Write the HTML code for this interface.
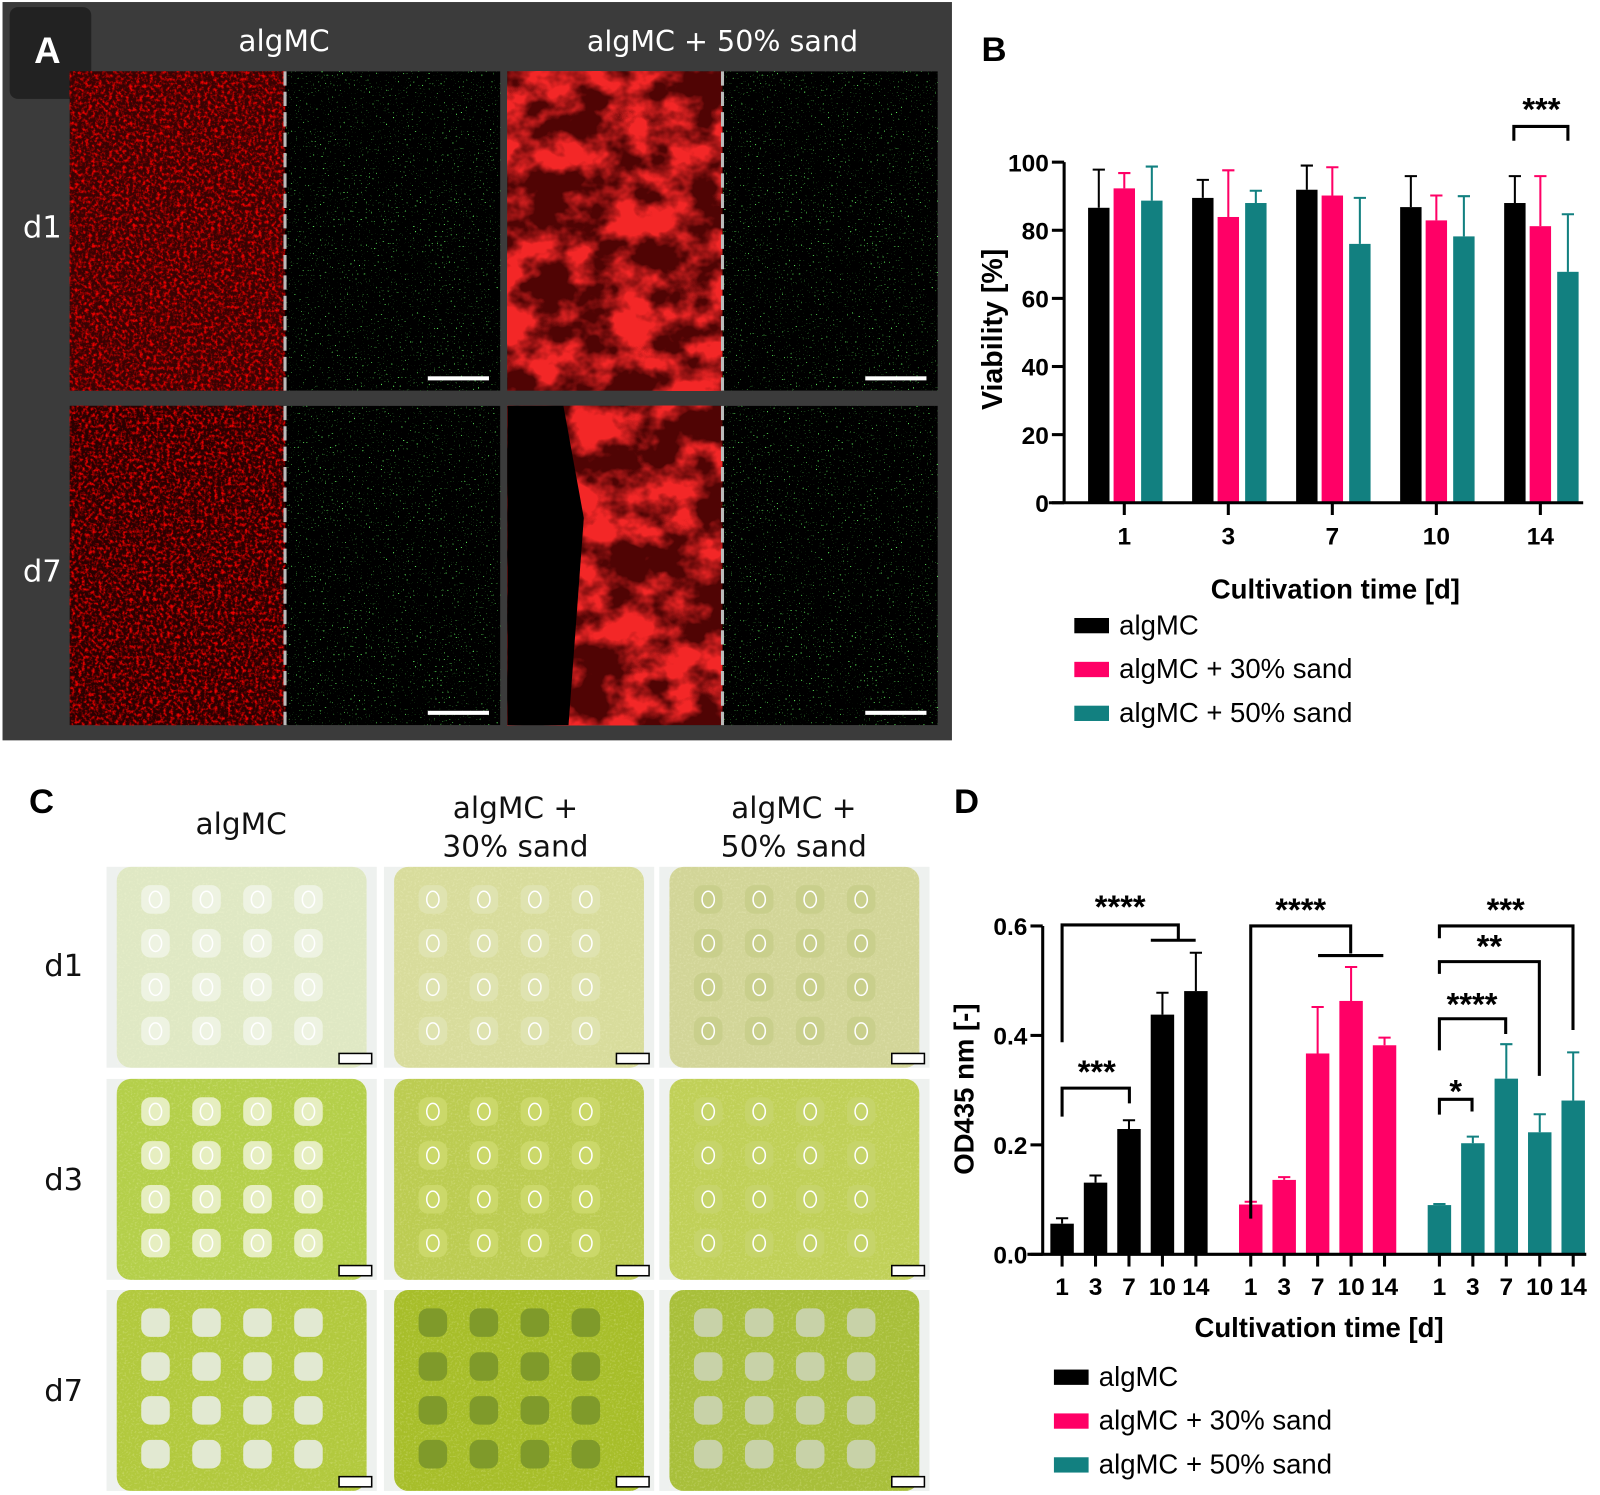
<!DOCTYPE html>
<html><head><meta charset="utf-8"><style>
html,body{margin:0;padding:0;background:#fff;}
svg{display:block;}
.t{font-family:"DejaVu Sans","Liberation Sans",sans-serif;}
.b{font-family:"Liberation Sans",sans-serif;font-weight:bold;}
.l{font-family:"Liberation Sans",sans-serif;}
</style></head><body>
<svg id="fig" width="1600" height="1495" viewBox="0 0 1568 1466" xmlns="http://www.w3.org/2000/svg">
<defs>
<filter id="redNoise" x="0" y="0" width="100%" height="100%">
<feTurbulence type="fractalNoise" baseFrequency="0.3" numOctaves="3" seed="3" result="n"/>
<feColorMatrix in="n" type="matrix" values="0 0 0 0 0.85  0 0 0 0 0  0 0 0 0 0  3 0 0 0 -1.35"/>
</filter>
<filter id="redBlob" x="0" y="0" width="100%" height="100%">
<feTurbulence type="fractalNoise" baseFrequency="0.025 0.03" numOctaves="4" seed="8" result="n"/>
<feColorMatrix in="n" type="matrix" values="0 0 0 0 0.9  0 0 0 0 0.02  0 0 0 0 0.02  4 0 0 0 -1.6"/>
</filter>
<filter id="greenDots" x="0" y="0" width="100%" height="100%">
<feTurbulence type="fractalNoise" baseFrequency="0.6" numOctaves="1" seed="5" result="n"/>
<feColorMatrix in="n" type="matrix" values="0 0 0 0 0.1  0 0 0 0 0.8  0 0 0 0 0.1  12 0 0 0 -8.2"/>
</filter>
<filter id="grain" x="0" y="0" width="100%" height="100%">
<feTurbulence type="fractalNoise" baseFrequency="0.5" numOctaves="2" seed="2" result="n"/>
<feColorMatrix in="n" type="matrix" values="0 0 0 0 1  0 0 0 0 1  0 0 0 0 0.7  2 0 0 0 -1"/>
</filter>
</defs>

<g>
<rect x="2" y="2" width="931" height="724" fill="#3b3b3b"/>
<rect x="9" y="7" width="80" height="90" rx="8" fill="#222"/>
<text x="46" y="62" class="b" font-size="36" fill="#fff" text-anchor="middle">A</text>
<text x="278" y="50" class="t" font-size="29" fill="#fff" text-anchor="middle">algMC</text>
<text x="708" y="50" class="t" font-size="28" fill="#fff" text-anchor="middle">algMC + 50% sand</text>
<text x="41" y="233" class="t" font-size="30" fill="#fff" text-anchor="middle">d1</text>
<text x="41" y="570" class="t" font-size="30" fill="#fff" text-anchor="middle">d7</text>
<g id="micro"></g>
</g>

<g>
<text x="962" y="60" class="b" font-size="34" fill="#000">B</text>
<g id="chartB"></g>
</g>

<g>
<text x="28" y="797" class="b" font-size="34" fill="#000">C</text>
<text x="236" y="818" class="t" font-size="29" fill="#111" text-anchor="middle">algMC</text>
<text x="505" y="802" class="t" font-size="29" fill="#111" text-anchor="middle">algMC +</text>
<text x="505" y="840" class="t" font-size="29" fill="#111" text-anchor="middle">30% sand</text>
<text x="778" y="802" class="t" font-size="29" fill="#111" text-anchor="middle">algMC +</text>
<text x="778" y="840" class="t" font-size="29" fill="#111" text-anchor="middle">50% sand</text>
<text x="62" y="957" class="t" font-size="30" fill="#111" text-anchor="middle">d1</text>
<text x="62" y="1167" class="t" font-size="30" fill="#111" text-anchor="middle">d3</text>
<text x="62" y="1374" class="t" font-size="30" fill="#111" text-anchor="middle">d7</text>
<g id="photos"></g>
</g>

<g>
<text x="935" y="797" class="b" font-size="34" fill="#000">D</text>
<g id="chartD"></g>
</g>
</svg>

<script>
// ---------- Chart B data ----------
const bDays = ["1","3","7","10","14"];
const bAlg = [86.6, 89.5, 91.9, 86.8, 88.0];
const bAlgErr = [11.2, 5.3, 7.1, 9.1, 7.9];
const b30 = [92.3, 83.9, 90.2, 82.9, 81.2];
const b30Err = [4.5, 13.7, 8.3, 7.3, 14.7];
const b50 = [88.7, 88.0, 76.0, 78.2, 67.8];
const b50Err = [10.0, 3.6, 13.5, 11.8, 16.9];
const bTicks = [0, 20, 40, 60, 80, 100];

// ---------- Chart D data ----------
const dDays = ["1","3","7","10","14"];
const dAlg = [0.056, 0.131, 0.229, 0.438, 0.481];
const dAlgErr = [0.010, 0.013, 0.016, 0.040, 0.070];
const d30 = [0.091, 0.136, 0.367, 0.463, 0.382];
const d30Err = [0.005, 0.005, 0.085, 0.062, 0.014];
const d50 = [0.090, 0.203, 0.321, 0.223, 0.281];
const d50Err = [0.002, 0.012, 0.063, 0.033, 0.088];
const dTicks = [0.0, 0.2, 0.4, 0.6];

const NS = "http://www.w3.org/2000/svg";
const COLORS = ["#000000", "#ff0066", "#128080"];
function mk(parent, tag, attrs, txt) {
  const e = document.createElementNS(NS, tag);
  for (const k in attrs) e.setAttribute(k, attrs[k]);
  if (txt !== undefined) e.textContent = txt;
  parent.appendChild(e);
  return e;
}

(function () {
  const g = document.getElementById("chartB");
  const y0 = 493, y100 = 159, axX = 1043;
  const yB = v => y0 - (v / 100) * (y0 - y100);
  const xCenter = i => 1102 + i * 102;
  const offs = [-25, 0, 27];
  const bw = 21;
  const series = [[bAlg, bAlgErr], [b30, b30Err], [b50, b50Err]];
  const names = ["algmc", "algmc-30-sand", "algmc-50-sand"];
  series.forEach((s, si) => {
    s[0].forEach((v, i) => {
      const cx = xCenter(i) + offs[si];
      const top = yB(s[1][i] + v);
      const eb = mk(g, "path", { d: `M${cx} ${yB(v)}V${top}M${cx - 6} ${top}H${cx + 6}`, stroke: COLORS[si], "stroke-width": 2, fill: "none" });
      
      
      const r = mk(g, "rect", { x: cx - bw / 2, y: yB(v), width: bw, height: y0 - yB(v), fill: COLORS[si] });
      
      
    });
  });
  const ax = mk(g, "path", { d: `M${axX} ${y100}V${y0}M1028 ${y0}H1552`, stroke: "#000", "stroke-width": 3, fill: "none" });
  
  
  bTicks.forEach(t => {
    const tk = mk(g, "path", { d: `M${axX - 12} ${yB(t)}H${axX}`, stroke: "#000", "stroke-width": 3 });
    
    
    const tl = mk(g, "text", { x: axX - 15, y: yB(t) + 9, "text-anchor": "end", "font-size": 24, class: "b" }, String(t));
    
    
  });
  bDays.forEach((d, i) => {
    const tk = mk(g, "path", { d: `M${xCenter(i)} ${y0}V${y0 + 12}`, stroke: "#000", "stroke-width": 3 });
    
    
    const tl = mk(g, "text", { x: xCenter(i), y: y0 + 41, "text-anchor": "middle", "font-size": 24, class: "b" }, d);
    
    
  });
  const yt = mk(g, "text", { x: 0, y: 0, transform: "translate(982 323) rotate(-90)", "text-anchor": "middle", "font-size": 28, class: "b" }, "Viability [%]");
  
  
  const xt = mk(g, "text", { x: 1309, y: 587, "text-anchor": "middle", "font-size": 27, class: "b" }, "Cultivation time [d]");
  
  
  const br = mk(g, "path", { d: "M1484 138V124H1537V138", stroke: "#000", "stroke-width": 3, fill: "none" });
  
  
  const st = mk(g, "text", { x: 1511, y: 118, "text-anchor": "middle", "font-size": 32, class: "b" }, "***");
  
  
  const labs = ["algMC", "algMC + 30% sand", "algMC + 50% sand"];
  labs.forEach((l, i) => {
    const y = 613 + i * 43;
    const sw = mk(g, "rect", { x: 1053, y: y - 7, width: 34, height: 15, fill: COLORS[i] });
    
    
    const tx = mk(g, "text", { x: 1097, y: y + 9, "font-size": 27, class: "l" }, l);
    
    
  });
})();

(function () {
  const g = document.getElementById("chartD");
  const y0 = 1230, y06 = 908, axX = 1022;
  const yD = v => y0 - (v / 0.6) * (y0 - y06);
  const groupStart = [1041, 1226, 1411];
  const step = 32.8;
  const xPos = (gi, i) => groupStart[gi] + i * step;
  const bw = 23;
  const series = [[dAlg, dAlgErr], [d30, d30Err], [d50, d50Err]];
  const names = ["algmc", "algmc-30-sand", "algmc-50-sand"];
  series.forEach((s, si) => {
    s[0].forEach((v, i) => {
      const cx = xPos(si, i);
      const top = yD(s[1][i] + v);
      const eb = mk(g, "path", { d: `M${cx} ${yD(v)}V${top}M${cx - 6} ${top}H${cx + 6}`, stroke: COLORS[si], "stroke-width": 2, fill: "none" });
      
      
      const r = mk(g, "rect", { x: cx - bw / 2, y: yD(v), width: bw, height: y0 - yD(v), fill: COLORS[si] });
      
      
    });
    dDays.forEach((d, i) => {
      const tk = mk(g, "path", { d: `M${xPos(si, i)} ${y0}V${y0 + 12}`, stroke: "#000", "stroke-width": 3 });
      
      
      const tl = mk(g, "text", { x: xPos(si, i), y: y0 + 40, "text-anchor": "middle", "font-size": 24, class: "b" }, d);
      
      
    });
  });
  const ax = mk(g, "path", { d: `M${axX} ${y06}V${y0}M1007 ${y0}H1555`, stroke: "#000", "stroke-width": 3, fill: "none" });
  
  
  dTicks.forEach(t => {
    const tk = mk(g, "path", { d: `M${axX - 12} ${yD(t)}H${axX}`, stroke: "#000", "stroke-width": 3 });
    
    
    const tl = mk(g, "text", { x: axX - 15, y: yD(t) + 9, "text-anchor": "end", "font-size": 24, class: "b" }, t.toFixed(1));
    
    
  });
  const yt = mk(g, "text", { x: 0, y: 0, transform: "translate(954 1068) rotate(-90)", "text-anchor": "middle", "font-size": 27, class: "b" }, "OD435 nm [-]");
  
  
  const xt = mk(g, "text", { x: 1293, y: 1311, "text-anchor": "middle", "font-size": 27, class: "b" }, "Cultivation time [d]");
  
  
  const brackets = [
    ["M1041 1022V907H1155V922M1128 922H1172", "****", 1098, 900],
    ["M1041 1095V1067H1107V1082", "***", 1075, 1062],
    ["M1226 1195V908H1324V935M1292 937H1356", "****", 1275, 903],
    ["M1411 920V908H1542V1010", "***", 1476, 903],
    ["M1411 955V943H1509V1055", "**", 1460, 939],
    ["M1411 1030V999H1476V1014", "****", 1443, 996],
    ["M1411 1093V1078H1443V1090", "*", 1427, 1081]
  ];
  brackets.forEach(b => {
    const p = mk(g, "path", { d: b[0], stroke: "#000", "stroke-width": 3, fill: "none" });
    
    
    const s = mk(g, "text", { x: b[2], y: b[3], "text-anchor": "middle", "font-size": 32, class: "b" }, b[1]);
    
    
  });
  const labs = ["algMC", "algMC + 30% sand", "algMC + 50% sand"];
  labs.forEach((l, i) => {
    const y = 1350 + i * 43;
    const sw = mk(g, "rect", { x: 1033, y: y - 7, width: 34, height: 15, fill: COLORS[i] });
    
    
    const tx = mk(g, "text", { x: 1077, y: y + 9, "font-size": 27, class: "l" }, l);
    
    
  });
})();

(function () {
  const g = document.getElementById("micro");
  const cells = [[68, 70, 0], [497, 70, 1], [68, 398, 2], [497, 398, 3]];
  cells.forEach(c => {
    const [x, y, k] = c;
    const w = 422, h = 313, half = 211;
    const bg = mk(g, "rect", { x: x, y: y, width: w, height: h, fill: "#000" });
    
    
    let redFill = k === 0 ? "#3a0202" : (k === 2 ? "#2a0000" : "#500404");
    const rd = mk(g, "rect", { x: x, y: y, width: half, height: h, fill: redFill });
    
    
    const rn = mk(g, "rect", { x: x, y: y, width: half, height: h, filter: k === 1 || k === 3 ? "url(#redBlob)" : "url(#redNoise)" });
    
    
    if (k === 3) {
      const dark = mk(g, "path", { d: `M${x} ${y}H${x + 55}L${x + 75} ${y + 110}L${x + 60} ${y + h}H${x}Z`, fill: "#000" });
      
      
    }
    const gn = mk(g, "rect", { x: x + half, y: y, width: half, height: h, filter: "url(#greenDots)" });
    
    
    const dl = mk(g, "line", { x1: x + half, y1: y, x2: x + half, y2: y + h, stroke: "#bbb", "stroke-width": 3, "stroke-dasharray": "14 6" });
    
    
    const sb = mk(g, "rect", { x: x + 351, y: y + 299, width: 60, height: 4, fill: "#fff" });
    
    
  });
})();

(function () {
  const g = document.getElementById("photos");
  const cols = [104, 376, 646];
  const rows = [850, 1058, 1265];
  const base = [["#dfe8c4", "#d8dc9c", "#d2d598"], ["#b4cf4a", "#bccc52", "#c0d058"], ["#b2c93e", "#a7be2a", "#a8bf3a"]];
  const hole = [["#eef3e2", "#dfe3b0", "#c9cf8c"], ["#e6eec0", "#cbd86a", "#c6d46a"], ["#e2e9d2", "#7f9a2a", "#c8d2a8"]];
  rows.forEach((ry, r) => {
    cols.forEach((cx, c) => {
      const w = 265, h = 197;
      const bg = mk(g, "rect", { x: cx, y: ry, width: w, height: h, fill: "#eef1ef" });
      
      
      const sc = mk(g, "rect", { x: cx + 10, y: ry, width: w - 20, height: h, rx: 14, fill: base[r][c] });
      
      
      const gr = mk(g, "rect", { x: cx + 10, y: ry, width: w - 20, height: h, rx: 14, filter: "url(#grain)", opacity: 0.35 });
      
      
      for (let i = 0; i < 4; i++) {
        for (let j = 0; j < 4; j++) {
          const hx = cx + 48 + j * 50, hy = ry + 32 + i * 43;
          const ho = mk(g, "rect", { x: hx - 14, y: hy - 14, width: 28, height: 28, rx: 9, fill: hole[r][c] });
          
          
          if (r < 2) {
            const ri = mk(g, "ellipse", { cx: hx, cy: hy, rx: 6, ry: 8, fill: "none", stroke: "#fff", "stroke-width": 1.5 });
            
            
          }
        }
      }
      const sb = mk(g, "rect", { x: cx + w - 37, y: ry + h - 14, width: 32, height: 10, fill: "#fff", stroke: "#000", "stroke-width": 1.5 });
      
      
    });
  });
})();
</script>
</body></html>
